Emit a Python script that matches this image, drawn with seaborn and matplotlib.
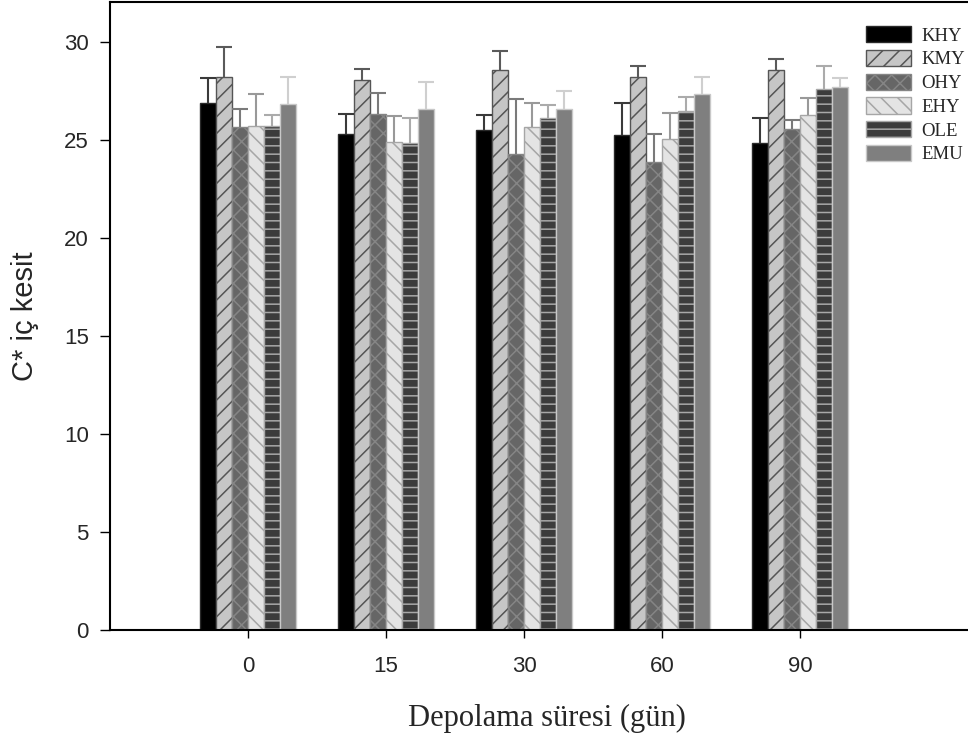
import matplotlib
matplotlib.use('Agg')
import matplotlib.pyplot as plt
import numpy as np
import pandas as pd
import seaborn as sns
from matplotlib.patches import Patch

# ---------------- data ----------------
days = ['0', '15', '30', '60', '90']
series = ['KHY', 'KMY', 'OHY', 'EHY', 'OLE', 'EMU']

KHY = [26.90, 25.30, 25.50, 25.26, 24.83]
KMY = [28.18, 28.03, 28.54, 28.18, 28.57]
OHY = [25.63, 26.29, 24.29, 23.88, 25.54]
EHY = [25.71, 24.90, 25.66, 25.03, 26.24]
OLE = [25.71, 24.83, 26.12, 26.48, 27.57]
EMU = [26.82, 26.55, 26.56, 27.33, 27.69]

KHY_err = [1.25, 1.00, 0.74, 1.64, 1.29]
KMY_err = [1.55, 0.57, 0.97, 0.56, 0.53]
OHY_err = [0.93, 1.12, 2.80, 1.41, 0.48]
EHY_err = [1.60, 1.29, 1.19, 1.33, 0.90]
OLE_err = [0.53, 1.26, 0.63, 0.68, 1.17]
EMU_err = [1.36, 1.38, 0.94, 0.85, 0.47]

y_ticks = [0, 5, 10, 15, 20, 25, 30]
x_label = 'Depolama süresi (gün)'
y_label = 'C* iç kesit'

values = {'KHY': KHY, 'KMY': KMY, 'OHY': OHY, 'EHY': EHY, 'OLE': OLE, 'EMU': EMU}
errors = {'KHY': KHY_err, 'KMY': KMY_err, 'OHY': OHY_err, 'EHY': EHY_err,
          'OLE': OLE_err, 'EMU': EMU_err}

rows = []
for s in series:
    for d, v in zip(days, values[s]):
        rows.append({'day': d, 'group': s, 'value': v})
df = pd.DataFrame(rows)

# ---------------- styles ----------------
styles = {
    'KHY': dict(fc='#000000', ec='#2a2a2a', hatch=None, err='#3a3a3a'),
    'KMY': dict(fc='#c6c6c6', ec='#555555', hatch='//', err='#5a5a5a'),
    'OHY': dict(fc='#666666', ec='#858585', hatch='xx', err='#7a7a7a'),
    'EHY': dict(fc='#e4e4e4', ec='#a6a6a6', hatch='\\\\', err='#999999'),
    'OLE': dict(fc='#3c3c3c', ec='#a8a8a8', hatch='--', err='#ababab'),
    'EMU': dict(fc='#7f7f7f', ec='#c8c8c8', hatch=None, err='#cfcfcf'),
}

sns.set_style('ticks')
plt.rcParams['font.family'] = ['Liberation Sans', 'DejaVu Sans']
plt.rcParams['hatch.linewidth'] = 1.1

fig = plt.figure(figsize=(9.68, 7.4), dpi=100)
ax = fig.add_axes([110 / 968, 110 / 740, 858 / 968, 627.5 / 740])

sns.barplot(data=df, x='day', y='value', hue='group', order=days,
            hue_order=series, width=0.7, errorbar=None, legend=False, ax=ax,
            saturation=1)

for s, cont in zip(series, ax.containers):
    st = styles[s]
    xs, tops = [], []
    for p in cont.patches:
        p.set_facecolor(st['fc'])
        p.set_edgecolor(st['ec'])
        p.set_linewidth(1.0)
        if st['hatch']:
            p.set_hatch(st['hatch'])
        xs.append(p.get_x() + p.get_width() / 2)
        tops.append(p.get_height())
    xs = np.array(xs)
    tops = np.array(tops)
    err = np.array(errors[s])
    ax.errorbar(xs, tops, yerr=[np.zeros(len(xs)), err], fmt='none',
                ecolor=st['err'], elinewidth=1.5, capsize=0, zorder=3)
    ax.plot(xs, tops + err, linestyle='none', marker='_', markersize=12,
            markeredgewidth=1.5, color=st['err'], zorder=3)

ax.set_xlim(-1, 858 / 138 - 1)
ax.set_ylim(0, 32)
ax.set_yticks(y_ticks)
ax.tick_params(axis='both', labelsize=16, direction='out', width=1.0,
               color='black')
ax.tick_params(axis='y', pad=8, length=7.2)
ax.tick_params(axis='x', pad=13, length=6)

for sp in ['left', 'bottom', 'top']:
    ax.spines[sp].set_linewidth(1.5)
    ax.spines[sp].set_color('black')
ax.spines['right'].set_visible(False)

ax.set_ylabel(y_label, fontsize=21, ha='left', va='center')
ax.yaxis.set_label_coords(-85 / 858, (630 - 381) / 627.5)
ax.set_xlabel(x_label, fontsize=22, va='top',
              fontfamily=['Liberation Serif', 'DejaVu Serif'])
ax.xaxis.set_label_coords((547 - 110) / 858, (630 - 704) / 627.5)

handles = []
for s in series:
    st = styles[s]
    handles.append(Patch(facecolor=st['fc'], edgecolor=st['ec'],
                         hatch=st['hatch'], linewidth=1.0, label=s))
leg = ax.legend(handles=handles, loc='upper left',
                bbox_to_anchor=(866 / 968, 1 - 26 / 740),
                bbox_transform=fig.transFigure, frameon=False,
                prop={'family': ['Liberation Serif', 'DejaVu Serif'], 'size': 13.5},
                handlelength=2.4, handleheight=0.95, labelspacing=0.28,
                handletextpad=0.55, borderpad=0, borderaxespad=0)

fig.savefig('out.png', dpi=100)
